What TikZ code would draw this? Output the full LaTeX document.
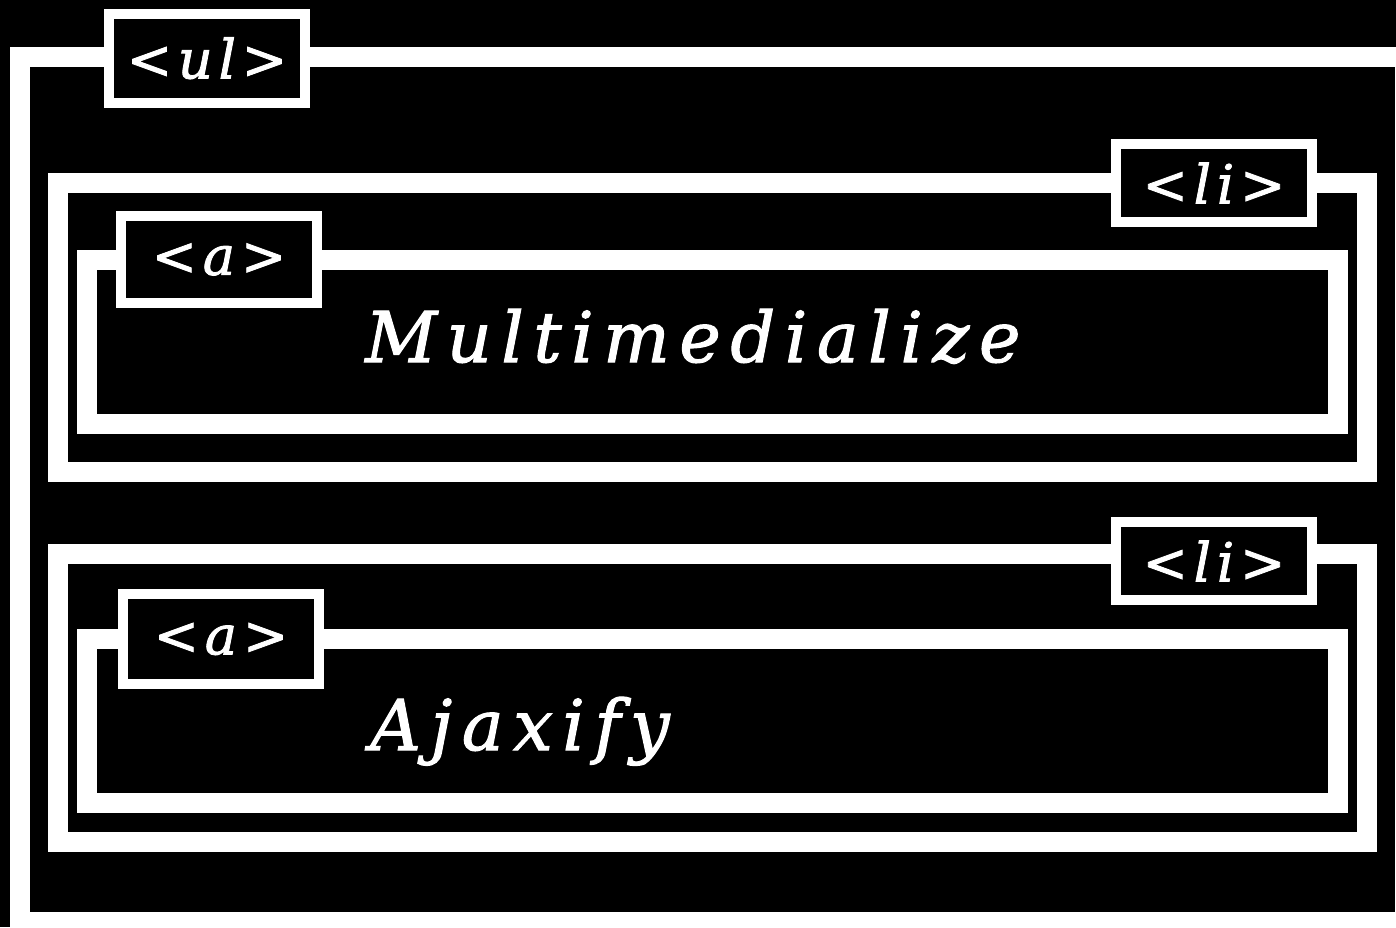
\documentclass[tikz,border=0pt]{standalone}
\usepackage{fontspec}
\setmainfont{DejaVu Serif}
\newfontfamily\bigfont[LetterSpace=13.8,FakeBold=1.6]{DejaVu Serif}
\newfontfamily\tagfont[LetterSpace=11,FakeBold=1.6]{DejaVu Serif}
\begin{document}
\begin{tikzpicture}[x=0.5pt,y=-0.5pt,
  container/.style={draw=white,line width=10pt,inner sep=0pt,outer sep=0pt},
  tagbox/.style={draw=white,fill=black,line width=5pt,inner sep=0pt,outer sep=0pt,
     minimum width=98pt,text=white,font=\tagfont\itshape\fontsize{27}{27}\selectfont},
  bigtext/.style={text=white,anchor=base west,inner sep=0pt,font=\bigfont\itshape\fontsize{35}{35}\selectfont}]
\useasboundingbox (0,0) rectangle (1396,927);
\fill[black] (0,0) rectangle (1396,927);
\clip (0,0) rectangle (1396,927);
% containers
\node[container,minimum width=692.5pt,minimum height=432.5pt] (ul) at (712.5,489.5) {};
\node[container,minimum width=654.5pt,minimum height=144.25pt] (li1) at (712.5,327.25) {};
\node[container,minimum width=654.5pt,minimum height=144.25pt] (li2) at (712.5,697.75) {};
\node[container,minimum width=625.5pt,minimum height=82pt] (a1) at (712.5,342) {};
\node[container,minimum width=625.5pt,minimum height=82pt] (a2) at (712.5,721) {};
% tag labels
\node[tagbox,minimum height=44.75pt] (ultag) at (207,58.25) {<ul>};
\node[tagbox,minimum height=39pt] (li1tag) at (1214,183) {<li>};
\node[tagbox,minimum height=39.25pt] (li2tag) at (1214,561) {<li>};
\node[tagbox,minimum height=43.5pt] (a1tag) at (219,259.5) {<a>};
\node[tagbox,minimum height=45pt] (a2tag) at (221,639) {<a>};
% contents
\node[bigtext] (t1) at (365,362) {Multimedialize};
\node[bigtext] (t2) at (370,750) {Ajaxify};
\end{tikzpicture}
\end{document}
